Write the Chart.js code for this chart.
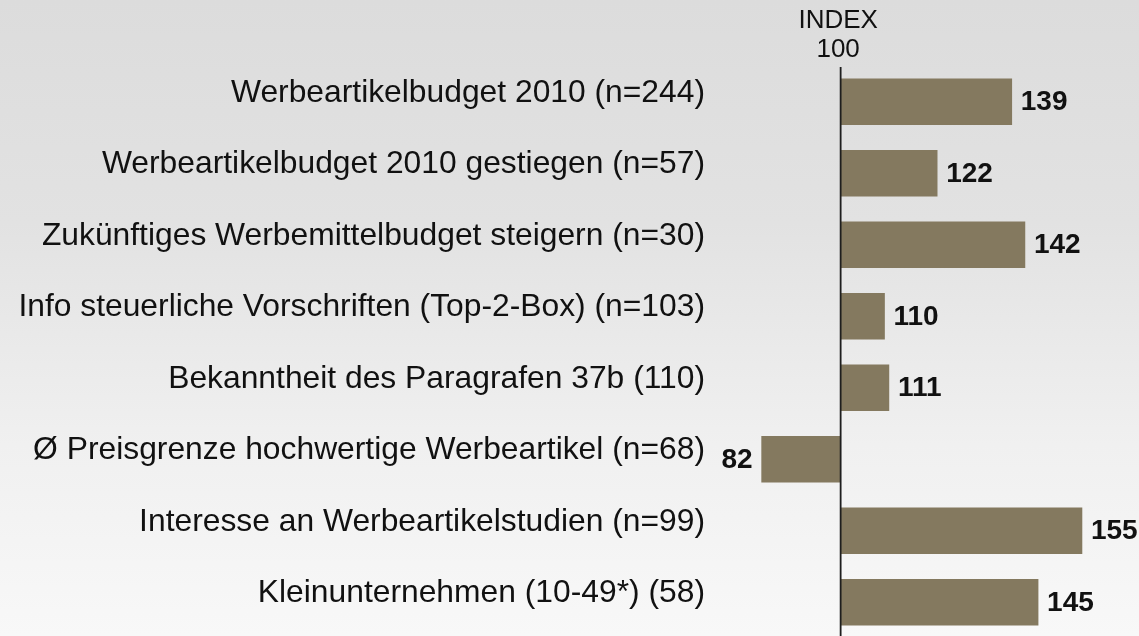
<!DOCTYPE html>
<html>
<head>
<meta charset="utf-8">
<script src="https://cdn.jsdelivr.net/npm/chart.js@4"></script>
<style>
html, body { margin: 0; padding: 0; overflow: hidden; }
body { width: 1139px; height: 636px; background: linear-gradient(to bottom, #dcdcdc 0%, #e2e2e2 35%, #f0f0f0 70%, #f8f8f8 100%); }
canvas { display: block; }
</style>
</head>
<body>
<canvas id="indexChart" width="1139" height="638"></canvas>
<script>
var labels = [
	"Werbeartikelbudget 2010 (n=244)",
	"Werbeartikelbudget 2010 gestiegen (n=57)",
	"Zukünftiges Werbemittelbudget steigern (n=30)",
	"Info steuerliche Vorschriften (Top-2-Box) (n=103)",
	"Bekanntheit des Paragrafen 37b (110)",
	"Ø Preisgrenze hochwertige Werbeartikel (n=68)",
	"Interesse an Werbeartikelstudien (n=99)",
	"Kleinunternehmen (10-49*) (58)"
];
var values = [139, 122, 142, 110, 111, 82, 155, 145];
var baseValue = 100;
var axisTitle = ["INDEX", "100"];

var FONT = "'Liberation Sans', Arial, Helvetica, sans-serif";

// bars start at the index line (100)
var barData = values.map(function(v) { return [baseValue, v]; });

var indexPlugin = {
	id: 'indexPlugin',
	afterDatasetsDraw: function(chart) {
		var ctx = chart.ctx;
		var xs = chart.scales.x;
		var area = chart.chartArea;
		var x0 = xs.getPixelForValue(baseValue);

		// vertical index line
		ctx.save();
		ctx.strokeStyle = '#1e1e1e';
		ctx.lineWidth = 1.8;
		ctx.beginPath();
		ctx.moveTo(x0, area.top + 1);
		ctx.lineTo(x0, chart.height);
		ctx.stroke();

		// INDEX / 100 caption
		ctx.fillStyle = '#111';
		ctx.font = '26px ' + FONT;
		ctx.textAlign = 'center';
		ctx.textBaseline = 'middle';
		ctx.fillText(axisTitle[0], x0 - 2.5, 21);
		ctx.fillText(axisTitle[1], x0 - 2.5, 50);

		// value labels
		ctx.font = 'bold 28px ' + FONT;
		var meta = chart.getDatasetMeta(0);
		meta.data.forEach(function(bar, i) {
			var v = values[i];
			var px = xs.getPixelForValue(v);
			if (v >= baseValue) {
				ctx.textAlign = 'left';
				ctx.fillText(String(v), px + 9, bar.y + 1);
			} else {
				ctx.textAlign = 'right';
				ctx.fillText(String(v), px - 9, bar.y + 1);
			}
		});
		ctx.restore();
	}
};

var ctx = document.getElementById('indexChart').getContext('2d');
var chart = new Chart(ctx, {
	type: 'bar',
	data: {
		labels: labels,
		datasets: [{
			data: barData,
			backgroundColor: '#84795f',
			borderWidth: 0,
			barThickness: 46
		}]
	},
	options: {
		indexAxis: 'y',
		responsive: false,
		animation: false,
		devicePixelRatio: 1,
		layout: { padding: { top: 66, left: 0, right: 0, bottom: 0 } },
		plugins: {
			legend: { display: false },
			tooltip: { enabled: false }
		},
		scales: {
			x: {
				type: 'linear',
				min: 70,
				max: 168,
				display: false
			},
			y: {
				grid: { display: false, drawTicks: false },
				border: { display: false },
				ticks: {
					color: '#111',
					font: { family: FONT, size: 31.8 },
					padding: 4,
					labelOffset: -9,
					autoSkip: false
				},
				afterFit: function(scale) {
					scale.width = 709;
					scale.paddingTop = 0;
					scale.paddingBottom = 0;
				}
			}
		}
	},
	plugins: [indexPlugin]
});
</script>
</body>
</html>
